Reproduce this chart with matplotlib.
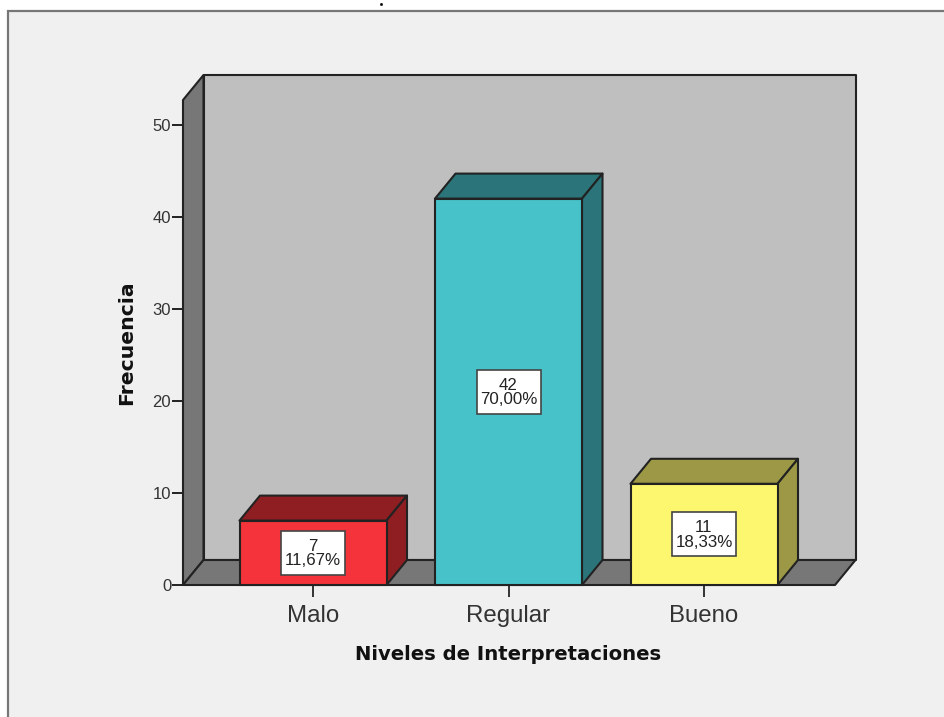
import matplotlib
matplotlib.use("Agg")
import matplotlib.pyplot as plt
import matplotlib.patheffects as pe
from matplotlib.patches import Polygon, Rectangle

categories = ["Malo", "Regular", "Bueno"]
counts = [7, 42, 11]
percent_labels = ["11,67%", "70,00%", "18,33%"]
front_colors = ["#F4333B", "#47C2C8", "#FDF76F"]
top_colors = ["#8E1E22", "#2B7479", "#9C9845"]
side_colors = ["#8E1E22", "#2B7479", "#9C9845"]
y_ticks = [0, 10, 20, 30, 40, 50]

W, H = 944, 717
plt.rcParams["font.family"] = ["Liberation Sans", "DejaVu Sans"]
fig = plt.figure(figsize=(W / 100, H / 100), dpi=100, facecolor="white")

# panel frame
bg = fig.add_axes([0, 0, 1, 1], zorder=0)
bg.set_xlim(0, W); bg.set_ylim(H, 0); bg.axis("off")
bg.add_patch(Rectangle((8, 10.5), W + 20, H + 20, fc="#F0F0F0", ec="#777777", lw=1.6))
bg.text(381.5, 5.5, ".", ha="center", va="bottom", fontsize=4, color="black", fontweight="bold",
        path_effects=[pe.withStroke(linewidth=1.2, foreground="black")])

# front plane of the chart
L, R, B, T = 183, 835, 585, 100
ax = fig.add_axes([L / W, 1 - B / H, (R - L) / W, (B - T) / H], zorder=1)
px_x = 195.5
px_y = 9.2
ax.set_xlim((L - 313) / px_x, (R - 313) / px_x)
ax.set_ylim(0, (B - T) / px_y)
ax.patch.set_alpha(0)
for s in ax.spines.values():
    s.set_visible(False)
dx, dy = 20.5 / px_x, 25 / px_y
x0, x1 = ax.get_xlim()
y1 = ax.get_ylim()[1]
EDGE = "#222222"
LW = 1.5

def poly(pts, fc, z):
    ax.add_patch(Polygon(pts, closed=True, fc=fc, ec=EDGE, lw=LW, zorder=z,
                         clip_on=False, joinstyle="round"))

poly([(x0 + dx, dy), (x1 + dx, dy), (x1 + dx, y1 + dy), (x0 + dx, y1 + dy)], "#BFBFBF", 1)
poly([(x0, 0), (x0 + dx, dy), (x0 + dx, y1 + dy), (x0, y1)], "#777777", 2)
poly([(x0, 0), (x1, 0), (x1 + dx, dy), (x0 + dx, dy)], "#777777", 2)

width = 147 / px_x
for i, v in enumerate(counts):
    a, b = i - width / 2, i + width / 2
    poly([(a, v), (b, v), (b + dx, v + dy), (a + dx, v + dy)], top_colors[i], 3)
    poly([(b, 0), (b + dx, dy), (b + dx, v + dy), (b, v)], side_colors[i], 3)
bars = ax.bar(range(3), counts, width=width, color=front_colors, edgecolor=EDGE,
              linewidth=LW, zorder=4, clip_on=False)

box_w, box_h = 64 / px_x, 44 / px_y
for i, v in enumerate(counts):
    ax.add_patch(Rectangle((i - box_w / 2, v / 2 - box_h / 2), box_w, box_h,
                           fc="white", ec="#444444", lw=1.2, zorder=5))
    ax.text(i, v / 2 - 0.05, f"{v}\n{percent_labels[i]}", ha="center", va="center",
            fontsize=12.2, color="#222222", zorder=6, linespacing=0.95)

ax.set_xticks(range(3), categories)
ax.set_yticks(y_ticks)
ax.tick_params(axis="x", length=8.5, width=1.4, color="#333333", labelsize=17.3,
               labelcolor="#333333", pad=6)
ax.tick_params(axis="y", length=8, width=1.4, color="#222222", labelsize=12,
               labelcolor="#333333", pad=0.5)

fig.text(508 / W, 1 - 655 / H, "Niveles de Interpretaciones", ha="center", va="center",
         fontsize=14.1, fontweight="bold", family=["DejaVu Sans"], color="#111111")
fig.text(127 / W, 1 - 342.5 / H, "Frecuencia", rotation=90, ha="center", va="center",
         fontsize=14.7, fontweight="bold", family=["DejaVu Sans"], color="#111111")

fig.savefig("out.png", dpi=100, facecolor="white")
